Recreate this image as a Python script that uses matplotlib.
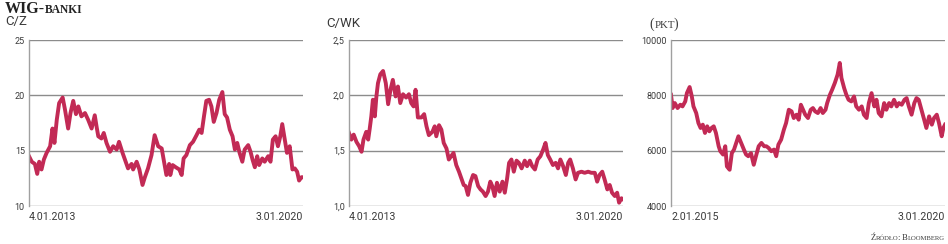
import matplotlib
matplotlib.use("Agg")
import matplotlib.pyplot as plt

# ── Data ──────────────────────────────────────────────────────────────────
# C/Z (P/E) of WIG-banki, 4.01.2013 → 3.01.2020, x in decimal years
pe_t = [2013.00, 2013.07, 2013.15, 2013.21, 2013.26, 2013.32, 2013.38, 2013.45, 2013.54, 2013.60,
        2013.65, 2013.71, 2013.77, 2013.86, 2013.92, 2014.00, 2014.06, 2014.13, 2014.20, 2014.26,
        2014.34, 2014.43, 2014.51, 2014.60, 2014.68, 2014.73, 2014.77, 2014.85, 2014.91, 2014.98,
        2015.07, 2015.15, 2015.24, 2015.30, 2015.39, 2015.45, 2015.53, 2015.62, 2015.66, 2015.75,
        2015.82, 2015.90, 2015.96, 2016.04, 2016.13, 2016.21, 2016.30, 2016.39, 2016.44, 2016.51,
        2016.58, 2016.61, 2016.67, 2016.75, 2016.84, 2016.90, 2016.95, 2017.02, 2017.11, 2017.19,
        2017.28, 2017.35, 2017.41, 2017.47, 2017.53, 2017.60, 2017.66, 2017.72, 2017.79, 2017.86,
        2017.94, 2018.00, 2018.06, 2018.13, 2018.20, 2018.26, 2018.32, 2018.38, 2018.45, 2018.51,
        2018.60, 2018.66, 2018.71, 2018.77, 2018.83, 2018.88, 2018.96, 2019.02, 2019.11, 2019.17,
        2019.23, 2019.30, 2019.36, 2019.42, 2019.47, 2019.53, 2019.59, 2019.66, 2019.73, 2019.79,
        2019.85, 2019.90, 2019.96, 2020.00]
pe_v = [14.5, 14.0, 13.8, 12.9, 14.0, 13.3, 14.2, 14.8, 15.4, 17.0,
        15.7, 17.8, 19.3, 19.8, 18.7, 17.0, 18.4, 19.5, 18.3, 19.0,
        18.1, 18.4, 17.8, 17.0, 18.2, 17.1, 16.3, 16.1, 16.6, 15.7,
        14.9, 15.4, 15.1, 15.8, 14.8, 14.2, 13.4, 13.8, 13.3, 14.0,
        13.3, 11.9, 12.6, 13.4, 14.6, 16.4, 15.4, 15.2, 14.2, 12.8,
        13.8, 12.8, 13.7, 13.5, 13.3, 12.8, 14.3, 14.6, 15.5, 15.8,
        16.4, 16.9, 16.6, 18.1, 19.5, 19.6, 19.0, 17.6, 18.4, 19.6,
        20.3, 18.3, 18.0, 16.9, 16.3, 15.1, 15.7, 14.8, 14.0, 15.1,
        15.5, 14.9, 14.2, 13.5, 14.5, 13.7, 14.3, 14.0, 14.5, 14.0,
        16.0, 16.3, 15.4, 16.3, 17.4, 16.1, 14.8, 15.4, 13.3, 13.4,
        13.1, 12.3, 12.6, 12.6]

# C/WK (P/BV), 4.01.2013 → 3.01.2020
pb_t = [2013.00, 2013.06, 2013.12, 2013.19, 2013.26, 2013.32, 2013.37, 2013.44, 2013.49, 2013.53,
        2013.57, 2013.61, 2013.66, 2013.70, 2013.74, 2013.80, 2013.87, 2013.94, 2014.00, 2014.06,
        2014.12, 2014.19, 2014.25, 2014.31, 2014.38, 2014.46, 2014.53, 2014.59, 2014.65, 2014.70,
        2014.76, 2014.85, 2014.92, 2014.98, 2015.04, 2015.13, 2015.19, 2015.23, 2015.30, 2015.36,
        2015.42, 2015.49, 2015.55, 2015.61, 2015.67, 2015.74, 2015.81, 2015.87, 2015.93, 2015.98,
        2016.04, 2016.10, 2016.17, 2016.23, 2016.30, 2016.36, 2016.42, 2016.49, 2016.55, 2016.61,
        2016.66, 2016.72, 2016.78, 2016.85, 2016.92, 2016.98, 2017.04, 2017.09, 2017.15, 2017.21,
        2017.28, 2017.34, 2017.41, 2017.49, 2017.55, 2017.62, 2017.68, 2017.75, 2017.82, 2017.89,
        2017.96, 2018.02, 2018.08, 2018.14, 2018.21, 2018.28, 2018.34, 2018.40, 2018.47, 2018.54,
        2018.60, 2018.65, 2018.72, 2018.79, 2018.85, 2018.94, 2019.02, 2019.11, 2019.19, 2019.28,
        2019.34, 2019.40, 2019.47, 2019.53, 2019.60, 2019.66, 2019.72, 2019.79, 2019.85, 2019.90,
        2019.96, 2020.00]
pb_v = [1.66, 1.60, 1.645, 1.58, 1.54, 1.49, 1.60, 1.67, 1.60, 1.70,
        1.81, 1.96, 1.81, 1.99, 2.11, 2.19, 2.22, 2.11, 1.92, 2.05,
        2.14, 1.99, 2.08, 1.93, 2.01, 1.98, 2.01, 1.93, 1.90, 2.05,
        1.80, 1.80, 1.83, 1.72, 1.64, 1.67, 1.72, 1.63, 1.73, 1.69,
        1.57, 1.52, 1.42, 1.45, 1.48, 1.37, 1.31, 1.25, 1.19, 1.18,
        1.10, 1.21, 1.28, 1.27, 1.18, 1.15, 1.13, 1.09, 1.13, 1.22,
        1.18, 1.09, 1.21, 1.13, 1.22, 1.12, 1.25, 1.39, 1.42, 1.31,
        1.41, 1.39, 1.34, 1.41, 1.36, 1.41, 1.36, 1.33, 1.42, 1.45,
        1.51, 1.57, 1.46, 1.42, 1.37, 1.39, 1.34, 1.42, 1.36, 1.28,
        1.39, 1.42, 1.34, 1.24, 1.30, 1.31, 1.30, 1.31, 1.30, 1.30,
        1.22, 1.28, 1.31, 1.24, 1.15, 1.19, 1.12, 1.09, 1.12, 1.03,
        1.07, 1.06]

# WIG-banki index (pkt), 2.01.2015 → 3.01.2020
ix_t = [2015.00, 2015.03, 2015.07, 2015.12, 2015.17, 2015.21, 2015.26, 2015.29, 2015.34, 2015.38,
        2015.41, 2015.46, 2015.50, 2015.54, 2015.58, 2015.62, 2015.66, 2015.70, 2015.74, 2015.78,
        2015.82, 2015.87, 2015.90, 2015.95, 2015.99, 2016.02, 2016.07, 2016.11, 2016.15, 2016.19,
        2016.23, 2016.28, 2016.33, 2016.37, 2016.41, 2016.46, 2016.51, 2016.55, 2016.60, 2016.65,
        2016.70, 2016.74, 2016.78, 2016.83, 2016.88, 2016.92, 2016.96, 2017.01, 2017.06, 2017.10,
        2017.15, 2017.20, 2017.24, 2017.29, 2017.33, 2017.37, 2017.41, 2017.45, 2017.50, 2017.55,
        2017.59, 2017.63, 2017.68, 2017.73, 2017.77, 2017.82, 2017.85, 2017.90, 2017.94, 2017.99,
        2018.04, 2018.08, 2018.11, 2018.16, 2018.20, 2018.24, 2018.29, 2018.34, 2018.38, 2018.43,
        2018.48, 2018.52, 2018.57, 2018.61, 2018.66, 2018.71, 2018.75, 2018.79, 2018.84, 2018.89,
        2018.93, 2018.98, 2019.02, 2019.07, 2019.12, 2019.16, 2019.21, 2019.26, 2019.30, 2019.34,
        2019.39, 2019.44, 2019.48, 2019.52, 2019.57, 2019.62, 2019.66, 2019.71, 2019.76, 2019.80,
        2019.85, 2019.89, 2019.94, 2019.97, 2020.00]
ix_v = [8020, 7540, 7720, 7540, 7660, 7600, 7780, 8080, 8300, 7960,
        7600, 7360, 7000, 6820, 6940, 6640, 6880, 6700, 6820, 6880,
        6640, 6160, 5980, 5860, 6160, 5430, 5310, 5910, 6040, 6280,
        6520, 6280, 6040, 5860, 5800, 5910, 5490, 5800, 6160, 6280,
        6160, 6160, 6100, 5980, 6040, 5800, 6220, 6400, 6760, 7000,
        7480, 7420, 7180, 7300, 7120, 7660, 7480, 7300, 7180, 7480,
        7540, 7420, 7360, 7540, 7360, 7480, 7720, 8020, 8200, 8450,
        8750, 9170, 8630, 8260, 8020, 7840, 7780, 7960, 7600, 7480,
        7600, 7300, 7180, 7720, 8080, 7600, 7840, 7360, 7240, 7720,
        7480, 7720, 7600, 7840, 7600, 7720, 7660, 7840, 7900, 7600,
        7300, 7720, 7900, 7840, 7480, 7120, 6820, 7240, 6940, 7180,
        7300, 7000, 6520, 6820, 6940]

panels = [
    dict(t=pe_t, v=pe_v, ticks=[10, 15, 20, 25], tlabels=["10", "15", "20", "25"],
         xlim=(2013.0, 2020.0), dates=("4.01.2013", "3.01.2020"), left=29),
    dict(t=pb_t, v=pb_v, ticks=[1.0, 1.5, 2.0, 2.5], tlabels=["1,0", "1,5", "2,0", "2,5"],
         xlim=(2013.0, 2020.0), dates=("4.01.2013", "3.01.2020"), left=349),
    dict(t=ix_t, v=ix_v, ticks=[4000, 6000, 8000, 10000],
         tlabels=["4000", "6000", "8000", "10000"],
         xlim=(2015.0, 2020.0), dates=("2.01.2015", "3.01.2020"), left=671),
]

LINE = "#c22a55"
GRID = "#8c8c8c"
TXT = "#3a3a3a"
SANS = ["Liberation Sans Narrow", "Roboto", "DejaVu Sans"]
SERIF = ["Liberation Serif", "DejaVu Serif"]

W, H = 948, 244
fig = plt.figure(figsize=(W / 100, H / 100), dpi=100)

for p in panels:
    ax = fig.add_axes([p["left"] / W, 1 - 206 / H, 274 / W, 166 / H])
    ax.plot(p["t"], p["v"], color=LINE, lw=2.8, solid_joinstyle="round")
    ax.set_xlim(*p["xlim"])
    ax.set_ylim(p["ticks"][0], p["ticks"][-1])
    ax.set_yticks(p["ticks"])
    ax.set_yticklabels(p["tlabels"], family=SANS, fontsize=6.5, color=TXT)
    ax.set_xticks([])
    ax.yaxis.grid(True, color=GRID, lw=1.0)
    ax.set_axisbelow(True)
    ax.tick_params(axis="y", length=0, pad=3)
    for s in ["top", "right", "bottom"]:
        ax.spines[s].set_visible(False)
    ax.spines["left"].set_color("#a0a0a0")
    ax.spines["left"].set_linewidth(1.0)
    ax.text(0, -0.035, p["dates"][0], transform=ax.transAxes, ha="left", va="top",
            family=SANS, fontsize=7.7, color=TXT)
    ax.text(1, -0.035, p["dates"][1], transform=ax.transAxes, ha="right", va="top",
            family=SANS, fontsize=7.7, color=TXT)


def small_caps(x, y, parts, ha="left", **kw):
    """Write (text, fontsize, gap_px) pieces one after another on a shared baseline."""
    fig.canvas.draw()
    r = fig.canvas.get_renderer()
    pieces = []
    for s, fs, gap in parts:
        t = fig.text(0, y, s, fontsize=fs, va="baseline", ha="left", **kw)
        pieces.append((t, t.get_window_extent(r).width + gap))
    total = sum(w for _, w in pieces)
    cur = x * W - (total if ha == "right" else 0)
    for t, w in pieces:
        t.set_x(cur / W)
        cur += w


# headers
small_caps(5 / W, 1 - 13 / H, [("WIG-", 11.5, 0.0), ("BANKI", 8.3, 0)],
           family=SERIF, fontweight="bold", color="#222222")
fig.text(5 / W, 1 - 22 / H, "C/Z", family=SANS, fontsize=9.5, color=TXT, va="center", ha="left")
fig.text(326 / W, 1 - 24 / H, "C/WK", family=SANS, fontsize=9.5, color=TXT, va="center", ha="left")
small_caps(649 / W, 1 - 28 / H, [("(", 10, 1.0), ("PKT", 7.8, -1.5), (")", 10, 0)],
           family=SERIF, color=TXT)
small_caps(945 / W, 1 - 240 / H,
           [("Ź", 6.3, 0.3), ("RÓDŁO", 4.8, -1.5), (":", 6.3, 2.5), ("B", 6.3, 0.3),
            ("LOOMBERG", 4.8, 0)],
           ha="right", family=SERIF, color=TXT)

fig.savefig("out.png", dpi=100)
